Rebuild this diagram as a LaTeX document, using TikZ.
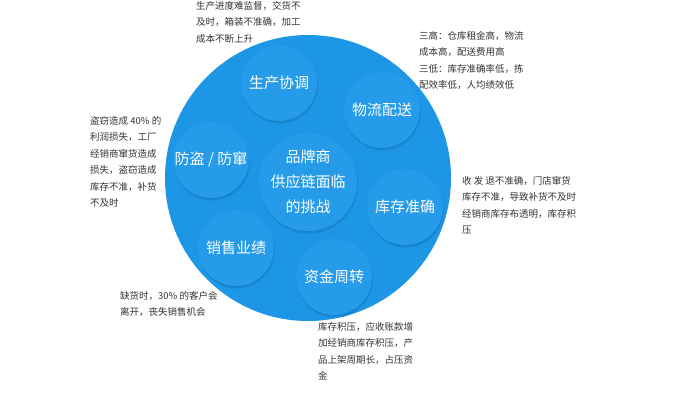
\documentclass[tikz,border=0pt]{standalone}
\usepackage{fontspec}
\setmainfont{Noto Sans CJK SC}
\definecolor{bigblue}{RGB}{29,150,230}
\definecolor{smallblue}{RGB}{38,155,233}
\definecolor{shadeblue}{RGB}{22,128,200}
\definecolor{notegray}{RGB}{51,51,51}

\begin{document}
\begin{tikzpicture}[
        x = 1pt, y = -1pt,
        bubble/.style = {
            circle,
            fill = smallblue,
            minimum size = #1,
            inner sep = 0pt,
            text = white,
            align = center,
            font = \fontsize{15}{25}\selectfont,
            preaction = {fill=shadeblue!55!bigblue, transform canvas={xshift=0.8pt, yshift=-2.6pt}},
            preaction = {fill=shadeblue, transform canvas={xshift=0.4pt, yshift=-1.2pt}}
        },
        bubble/.default = 76pt,
        note/.style = {
            anchor = north west,
            align = left,
            inner sep = 0pt,
            text = notegray,
            font = \fontsize{9.5}{16.5}\selectfont
        }
        ]
%
        \useasboundingbox[fill=white] (0,0) rectangle (694,405);
%
        \node[circle, fill=bigblue, minimum size=286pt, inner sep=0pt] (G) at (308,178) {};
%
        \node[bubble=88pt] (P0) at (308,182) {品牌商\\供应链面临\\的挑战};
        \node[bubble] (P1) at (279,83) {生产协调};
        \node[bubble] (P2) at (382,110) {物流配送};
        \node[bubble] (P3) at (211,160) {防盗 / 防窜};
        \node[bubble] (P4) at (405,207) {库存准确};
        \node[bubble] (P5) at (236,248) {销售业绩};
        \node[bubble] (P6) at (334,277) {资金周转};
%
%
        \node[note] (N1) at (196,1) {生产进度难监督，交货不\\及时，箱装不准确，加工\\成本不断上升};
        \node[note] (N2) at (419,31) {三高：仓库租金高，物流\\成本高，配送费用高\\三低：库存准确率低，拣\\配效率低，人均绩效低};
        \node[note] (N3) at (90,116) {盗窃造成 40\% 的\\利润损失，工厂\\经销商窜货造成\\损失，盗窃造成\\库存不准，补货\\不及时};
        \node[note] (N4) at (462,176) {收 发 退不准确，门店窜货\\库存不准，导致补货不及时\\经销商库存布透明，库存积\\压};
        \node[note] (N5) at (120,291) {缺货时，30\% 的客户会\\离开，丧失销售机会};
        \node[note] (N6) at (318,322) {库存积压，应收账款增\\加经销商库存积压，产\\品上架周期长，占压资\\金};
%
    \end{tikzpicture}
\end{document}
